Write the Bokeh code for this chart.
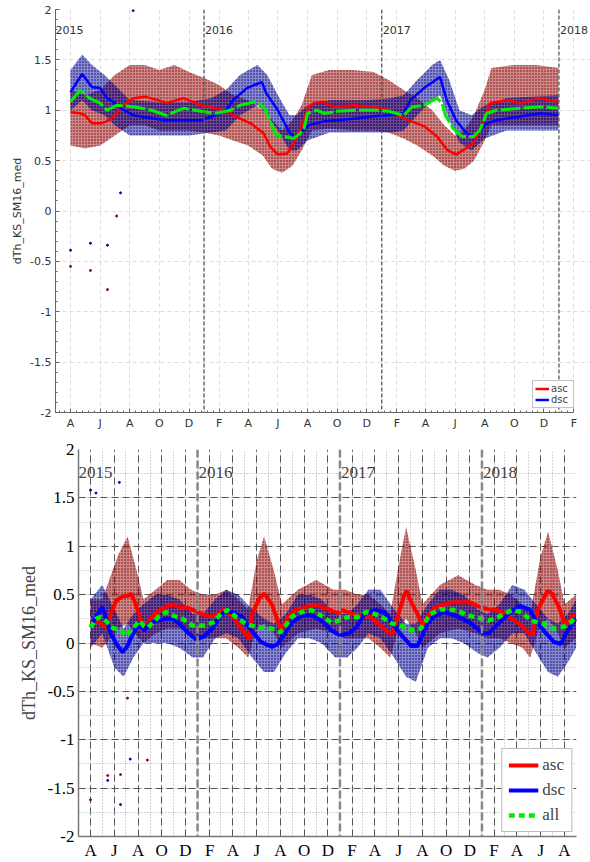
import pandas as pd
from bokeh.plotting import figure
from bokeh.models import (Range1d, FixedTicker, CustomJSTickFormatter, Span, Label,
                          Legend, LegendItem)
from bokeh.embed import file_html
from bokeh.resources import INLINE

# ---------------- DATA : top panel ----------------
asc_top_dates = ["2015-04-01", "2015-04-21", "2015-05-01", "2015-05-15", "2015-06-01", "2015-06-15",
                 "2015-07-02", "2015-07-15", "2015-08-09", "2015-09-01", "2015-09-29", "2015-10-15",
                 "2015-11-20", "2015-12-25", "2016-01-25", "2016-02-15", "2016-03-01", "2016-04-06",
                 "2016-05-03", "2016-05-16", "2016-06-01", "2016-06-20", "2016-07-01", "2016-07-15",
                 "2016-07-25", "2016-08-03", "2016-08-14", "2016-09-01", "2016-09-15", "2016-10-01",
                 "2016-11-01", "2016-12-15", "2017-01-15", "2017-02-15", "2017-03-30", "2017-04-25",
                 "2017-05-15", "2017-06-03", "2017-07-09", "2017-07-25", "2017-08-12", "2017-09-15",
                 "2017-10-15", "2017-11-20", "2017-12-31"]
asc_top = [0.98, 0.97, 0.95, 0.87, 0.87, 0.89, 0.95, 1.04, 1.12, 1.135, 1.10, 1.07, 1.12, 1.05,
           1.02, 0.99, 0.95, 0.87, 0.77, 0.64, 0.56, 0.57, 0.65, 0.78, 0.92, 1.03, 1.07, 1.085,
           1.05, 1.035, 1.05, 1.035, 1.00, 0.92, 0.84, 0.74, 0.61, 0.56, 0.67, 0.84, 1.07, 1.10,
           1.07, 1.12, 1.085]

dsc_top_dates = ["2015-04-01", "2015-04-25", "2015-05-15", "2015-06-01", "2015-06-15", "2015-06-28",
                 "2015-07-08", "2015-08-08", "2015-09-15", "2015-10-15", "2015-11-18", "2015-12-25",
                 "2016-01-25", "2016-02-15", "2016-03-01", "2016-03-29", "2016-04-29", "2016-05-08",
                 "2016-06-01", "2016-06-25", "2016-07-05", "2016-07-17", "2016-08-03", "2016-09-03",
                 "2016-10-03", "2016-11-13", "2016-12-15", "2017-01-15", "2017-02-15", "2017-03-01",
                 "2017-03-29", "2017-05-01", "2017-05-15", "2017-06-03", "2017-06-25", "2017-07-09",
                 "2017-07-22", "2017-08-05", "2017-08-25", "2017-10-15", "2017-11-25", "2017-12-31"]
dsc_top = [1.18, 1.36, 1.23, 1.22, 1.12, 1.085, 1.035, 0.95, 0.92, 0.90, 0.90, 0.90, 0.95, 1.00,
           1.10, 1.22, 1.28, 1.17, 1.00, 0.78, 0.73, 0.77, 0.85, 0.89, 0.90, 0.92, 0.94, 0.95,
           0.97, 1.10, 1.22, 1.33, 1.10, 0.90, 0.77, 0.74, 0.80, 0.87, 0.90, 0.94, 0.97, 0.95]

all_top_dates = ["2015-04-01", "2015-04-21", "2015-05-10", "2015-06-01", "2015-06-15", "2015-07-05",
                 "2015-08-09", "2015-09-15", "2015-10-15", "2015-11-20", "2015-12-25", "2016-01-25",
                 "2016-02-25", "2016-03-15", "2016-04-15", "2016-05-03", "2016-05-12", "2016-05-28",
                 "2016-06-15", "2016-07-03", "2016-07-17", "2016-07-25", "2016-08-01", "2016-08-20",
                 "2016-09-05", "2016-10-03", "2016-11-13", "2016-12-20", "2017-01-15", "2017-02-15",
                 "2017-03-05", "2017-03-30", "2017-04-25", "2017-05-05", "2017-05-12", "2017-05-28",
                 "2017-06-15", "2017-07-09", "2017-07-22", "2017-08-05", "2017-08-25", "2017-10-15",
                 "2017-11-25", "2017-12-31"]
all_top = [1.085, 1.20, 1.12, 1.07, 1.00, 1.05, 1.035, 1.00, 0.95, 1.02, 0.99, 0.97, 1.00, 1.05,
           1.085, 1.035, 0.94, 0.755, 0.74, 0.72, 0.77, 0.82, 0.97, 1.00, 0.97, 0.99, 1.00, 1.00,
           0.99, 0.95, 1.035, 1.05, 1.12, 1.07, 0.95, 0.82, 0.74, 0.74, 0.80, 0.97, 1.00, 1.02,
           1.035, 1.02]

# spread of the individual asc / dsc points (lower and upper edge of the clouds)
asc_top_band_dates = ["2015-04-01", "2015-05-01", "2015-06-01", "2015-07-01", "2015-08-01", "2015-09-01",
                      "2015-10-01", "2015-11-01", "2015-12-01", "2016-01-01", "2016-02-01", "2016-03-01",
                      "2016-04-01", "2016-05-01", "2016-05-20", "2016-06-10", "2016-07-01", "2016-07-20",
                      "2016-08-10", "2016-09-15", "2016-11-01", "2016-12-15", "2017-01-15", "2017-02-15",
                      "2017-03-15", "2017-04-15", "2017-05-10", "2017-06-01", "2017-06-20", "2017-07-10",
                      "2017-08-01", "2017-08-15", "2017-10-01", "2017-11-15", "2017-12-31"]
asc_top_lo = [0.65, 0.62, 0.65, 0.75, 0.85, 0.85, 0.80, 0.80, 0.80, 0.78, 0.75, 0.70, 0.65, 0.55,
              0.42, 0.38, 0.45, 0.60, 0.80, 0.82, 0.80, 0.80, 0.78, 0.72, 0.65, 0.55, 0.45, 0.40,
              0.42, 0.50, 0.70, 0.85, 0.85, 0.85, 0.85]
asc_top_hi = [1.20, 1.15, 1.20, 1.35, 1.45, 1.45, 1.40, 1.45, 1.38, 1.32, 1.25, 1.15, 1.10, 1.00,
              0.90, 0.80, 0.90, 1.05, 1.35, 1.40, 1.40, 1.38, 1.30, 1.20, 1.12, 1.00, 0.85, 0.75,
              0.80, 0.95, 1.20, 1.42, 1.45, 1.45, 1.42]

dsc_top_band_dates = ["2015-04-01", "2015-04-25", "2015-05-15", "2015-06-10", "2015-07-01", "2015-08-01",
                      "2015-10-01", "2015-12-01", "2016-01-15", "2016-02-15", "2016-03-15", "2016-04-20",
                      "2016-05-10", "2016-06-01", "2016-06-25", "2016-07-10", "2016-08-01", "2016-09-15",
                      "2016-12-01", "2017-01-20", "2017-02-15", "2017-03-15", "2017-04-15", "2017-05-01",
                      "2017-05-20", "2017-06-10", "2017-07-05", "2017-08-01", "2017-09-15", "2017-12-31"]
dsc_top_lo = [1.00, 1.10, 1.00, 0.95, 0.85, 0.75, 0.75, 0.75, 0.78, 0.80, 0.95, 1.05, 0.95, 0.80,
              0.60, 0.60, 0.70, 0.78, 0.78, 0.78, 0.80, 0.95, 1.10, 1.15, 0.90, 0.68, 0.60, 0.72,
              0.80, 0.80]
dsc_top_hi = [1.40, 1.55, 1.45, 1.35, 1.25, 1.10, 1.08, 1.08, 1.12, 1.20, 1.35, 1.45, 1.35, 1.15,
              0.95, 0.95, 1.05, 1.10, 1.10, 1.12, 1.15, 1.30, 1.45, 1.50, 1.30, 1.00, 0.95, 1.05,
              1.12, 1.15]

# isolated points
asc_top_out_dates = ["2015-04-01", "2015-05-12", "2015-06-16", "2015-07-05"]
asc_top_out = [-0.55, -0.59, -0.78, -0.05]
dsc_top_out_dates = ["2015-04-01", "2015-05-12", "2015-06-16", "2015-07-13", "2015-08-08"]
dsc_top_out = [-0.39, -0.32, -0.34, 0.18, 1.99]

# ---------------- DATA : bottom panel ----------------
asc_bot_dates = ["2015-04-01", "2015-04-15", "2015-04-28", "2015-05-10", "2015-05-25", "2015-06-06",
                 "2015-06-22", "2015-07-09", "2015-07-15", "2015-07-26", "2015-08-09", "2015-08-17",
                 "2015-09-01", "2015-09-18", "2015-10-05", "2015-10-27", "2015-11-16", "2015-12-10",
                 "2016-01-01", "2016-01-25", "2016-02-18", "2016-03-10", "2016-04-01", "2016-04-26",
                 "2016-05-12", "2016-05-20", "2016-06-09", "2016-06-21", "2016-07-10", "2016-07-25",
                 "2016-08-03", "2016-08-21", "2016-09-07", "2016-10-12", "2016-11-05", "2016-12-01",
                 "2016-12-25", "2017-01-07", "2017-02-03", "2017-03-01", "2017-03-18", "2017-04-09",
                 "2017-05-05", "2017-05-16", "2017-05-29", "2017-06-15", "2017-06-22", "2017-07-01",
                 "2017-07-19", "2017-08-01", "2017-08-15", "2017-09-02", "2017-10-15", "2017-12-01",
                 "2017-12-28", "2018-01-17", "2018-02-12", "2018-03-10", "2018-04-06", "2018-05-03",
                 "2018-05-12", "2018-05-24", "2018-06-19", "2018-06-30", "2018-07-18", "2018-08-01",
                 "2018-08-14", "2018-08-28"]
asc_bot = [0.20, 0.23, 0.20, 0.16, 0.32, 0.44, 0.48, 0.49, 0.51, 0.40, 0.23, 0.15, 0.25, 0.32,
           0.36, 0.40, 0.37, 0.36, 0.32, 0.28, 0.28, 0.36, 0.27, 0.13, 0.04, 0.30, 0.47, 0.51,
           0.40, 0.23, 0.13, 0.27, 0.34, 0.38, 0.39, 0.35, 0.31, 0.34, 0.30, 0.27, 0.28, 0.20,
           0.11, 0.095, 0.27, 0.49, 0.54, 0.44, 0.30, 0.18, 0.28, 0.37, 0.42, 0.42, 0.37, 0.35,
           0.34, 0.27, 0.20, 0.095, 0.095, 0.34, 0.54, 0.51, 0.37, 0.20, 0.23, 0.30]

dsc_bot_dates = ["2015-04-01", "2015-04-15", "2015-05-01", "2015-05-10", "2015-05-23", "2015-06-10",
                 "2015-06-22", "2015-07-05", "2015-07-17", "2015-08-05", "2015-08-17", "2015-09-01",
                 "2015-09-18", "2015-10-12", "2015-10-30", "2015-11-15", "2015-12-06", "2015-12-28",
                 "2016-01-15", "2016-02-08", "2016-02-27", "2016-03-14", "2016-04-09", "2016-04-25",
                 "2016-05-18", "2016-06-12", "2016-07-10", "2016-07-25", "2016-08-12", "2016-08-30",
                 "2016-09-25", "2016-10-20", "2016-11-15", "2016-12-10", "2017-01-01", "2017-01-22",
                 "2017-02-12", "2017-03-05", "2017-04-01", "2017-04-26", "2017-05-12", "2017-05-29",
                 "2017-06-15", "2017-07-03", "2017-07-19", "2017-08-01", "2017-08-15", "2017-09-02",
                 "2017-09-28", "2017-10-25", "2017-12-01", "2018-01-01", "2018-01-17", "2018-02-12",
                 "2018-03-10", "2018-04-06", "2018-05-03", "2018-05-20", "2018-06-08", "2018-07-05",
                 "2018-07-23", "2018-08-05", "2018-08-22", "2018-08-31"]
dsc_bot = [0.16, 0.27, 0.37, 0.27, 0.095, -0.03, -0.095, -0.03, 0.08, 0.20, 0.13, 0.20, 0.23,
           0.25, 0.25, 0.20, 0.11, 0.04, 0.06, 0.15, 0.27, 0.34, 0.30, 0.27, 0.13, 0.01, -0.04,
           -0.01, 0.095, 0.21, 0.28, 0.29, 0.23, 0.13, 0.08, 0.095, 0.16, 0.30, 0.34, 0.32, 0.23,
           0.13, 0.05, -0.03, -0.03, 0.08, 0.21, 0.28, 0.32, 0.28, 0.21, 0.11, 0.095, 0.20, 0.30,
           0.38, 0.35, 0.23, 0.13, 0.01, -0.01, 0.095, 0.20, 0.25]

all_bot_dates = ["2015-04-01", "2015-04-15", "2015-04-27", "2015-05-10", "2015-05-27", "2015-06-18",
                 "2015-07-01", "2015-07-14", "2015-08-05", "2015-08-15", "2015-08-26", "2015-09-08",
                 "2015-09-25", "2015-10-12", "2015-11-01", "2015-11-24", "2015-12-19", "2016-01-15",
                 "2016-02-09", "2016-03-06", "2016-03-18", "2016-04-09", "2016-05-04", "2016-05-18",
                 "2016-06-12", "2016-07-10", "2016-08-01", "2016-08-18", "2016-08-30", "2016-09-25",
                 "2016-10-20", "2016-11-15", "2016-12-10", "2016-12-28", "2017-01-22", "2017-02-16",
                 "2017-03-10", "2017-04-01", "2017-04-26", "2017-05-16", "2017-06-06", "2017-06-20",
                 "2017-07-03", "2017-07-28", "2017-08-22", "2017-09-17", "2017-10-25", "2017-12-01",
                 "2018-01-01", "2018-01-17", "2018-02-12", "2018-03-18", "2018-04-12", "2018-05-08",
                 "2018-06-08", "2018-07-05", "2018-07-23", "2018-08-05", "2018-08-22", "2018-08-31"]
all_bot = [0.16, 0.25, 0.27, 0.23, 0.16, 0.13, 0.07, 0.13, 0.23, 0.18, 0.16, 0.21, 0.28, 0.32,
           0.28, 0.25, 0.18, 0.18, 0.21, 0.32, 0.34, 0.27, 0.20, 0.18, 0.16, 0.15, 0.11, 0.20,
           0.27, 0.32, 0.34, 0.28, 0.21, 0.23, 0.27, 0.27, 0.32, 0.30, 0.25, 0.20, 0.18, 0.16,
           0.13, 0.15, 0.30, 0.35, 0.34, 0.28, 0.25, 0.23, 0.27, 0.34, 0.32, 0.23, 0.20, 0.15,
           0.16, 0.18, 0.23, 0.28]

asc_bot_band_dates = ["2015-04-01", "2015-05-01", "2015-06-10", "2015-07-05", "2015-07-25", "2015-08-15",
                      "2015-09-15", "2015-10-15", "2015-11-15", "2015-12-15", "2016-01-15", "2016-02-15",
                      "2016-03-15", "2016-04-15", "2016-05-10", "2016-06-01", "2016-06-20", "2016-07-15",
                      "2016-08-05", "2016-09-15", "2016-11-01", "2016-12-15", "2017-01-15", "2017-02-15",
                      "2017-03-15", "2017-04-15", "2017-05-10", "2017-06-01", "2017-06-20", "2017-07-15",
                      "2017-08-01", "2017-09-15", "2017-11-01", "2017-12-15", "2018-01-15", "2018-02-15",
                      "2018-03-15", "2018-04-15", "2018-05-05", "2018-06-01", "2018-06-20", "2018-07-15",
                      "2018-08-01", "2018-08-31"]
asc_bot_lo = [0.00, -0.05, 0.15, 0.20, 0.10, 0.00, 0.10, 0.15, 0.15, 0.10, 0.05, 0.05, 0.05,
              -0.05, -0.15, 0.15, 0.20, 0.10, -0.05, 0.10, 0.15, 0.10, 0.05, 0.05, 0.05, -0.05,
              -0.15, 0.15, 0.25, 0.10, -0.05, 0.10, 0.15, 0.10, 0.05, 0.05, 0.00, -0.05, -0.15,
              0.20, 0.25, 0.10, -0.05, 0.05]
asc_bot_hi = [0.45, 0.45, 0.90, 1.10, 0.80, 0.45, 0.55, 0.65, 0.65, 0.55, 0.50, 0.50, 0.55,
              0.45, 0.35, 0.85, 1.10, 0.75, 0.40, 0.55, 0.65, 0.55, 0.55, 0.50, 0.50, 0.40,
              0.30, 0.80, 1.20, 0.75, 0.40, 0.60, 0.70, 0.60, 0.55, 0.55, 0.50, 0.40, 0.30,
              0.90, 1.15, 0.75, 0.40, 0.50]

dsc_bot_band_dates = ["2015-04-01", "2015-05-01", "2015-06-01", "2015-06-25", "2015-07-20", "2015-08-15",
                      "2015-09-15", "2015-10-15", "2015-11-15", "2015-12-20", "2016-01-15", "2016-02-15",
                      "2016-03-15", "2016-04-15", "2016-05-20", "2016-06-20", "2016-07-15", "2016-08-15",
                      "2016-09-15", "2016-10-15", "2016-11-15", "2016-12-20", "2017-01-20", "2017-02-15",
                      "2017-03-15", "2017-04-15", "2017-05-20", "2017-06-20", "2017-07-15", "2017-08-15",
                      "2017-09-15", "2017-10-15", "2017-11-15", "2017-12-20", "2018-01-15", "2018-02-15",
                      "2018-03-20", "2018-04-20", "2018-05-20", "2018-06-20", "2018-07-15", "2018-08-10",
                      "2018-08-31"]
dsc_bot_lo = [-0.05, 0.10, -0.25, -0.35, -0.15, 0.00, 0.00, 0.00, -0.05, -0.15, -0.15, 0.05,
              0.10, 0.05, -0.15, -0.30, -0.30, -0.10, 0.05, 0.05, 0.00, -0.15, -0.15, -0.05,
              0.10, 0.05, -0.15, -0.35, -0.40, -0.05, 0.05, 0.05, 0.00, -0.10, -0.15, -0.05,
              0.10, 0.10, -0.10, -0.30, -0.35, -0.20, -0.05]
dsc_bot_hi = [0.45, 0.60, 0.35, 0.15, 0.30, 0.40, 0.50, 0.50, 0.45, 0.30, 0.30, 0.45, 0.55,
              0.50, 0.35, 0.25, 0.20, 0.30, 0.50, 0.50, 0.45, 0.30, 0.30, 0.40, 0.55, 0.55,
              0.35, 0.20, 0.20, 0.40, 0.55, 0.55, 0.50, 0.35, 0.30, 0.40, 0.60, 0.55, 0.40,
              0.25, 0.20, 0.30, 0.45]

asc_bot_out_dates = ["2015-04-01", "2015-05-15", "2015-06-17", "2015-07-05", "2015-08-25"]
asc_bot_out = [-1.62, -1.37, -1.36, -0.57, -1.21]
dsc_bot_out_dates = ["2015-04-01", "2015-04-15", "2015-06-14", "2015-05-15", "2015-06-17", "2015-07-12"]
dsc_bot_out = [1.58, 1.55, 1.66, -1.42, -1.67, -1.20]

year_labels = ["2015", "2016", "2017", "2018"]
month_letters = "JFMAMJJASOND"

# ---------------- helpers ----------------
def D(lst):
    return pd.to_datetime(lst)

def ms(s):
    return pd.Timestamp(s).value // 10**6

month_fmt = CustomJSTickFormatter(
    code="const d = new Date(tick); return '%s'[d.getUTCMonth()];" % month_letters)
num_fmt = CustomJSTickFormatter(code="return String(Math.round(tick*100)/100);")

RED, BLUE, GREEN = "#ff0000", "#0000ff", "#00ee00"
DRED, DBLUE = "#8b0000", "#00008b"

yt = [-2 + 0.5 * i for i in range(9)]

def cloud(p, xs, lo, hi, color):
    p.varea(x=D(xs), y1=lo, y2=hi, fill_color=color, fill_alpha=0.46,
            hatch_pattern="dot", hatch_color=color, hatch_alpha=1.0, hatch_scale=3,
            hatch_weight=1.3)

# =============== TOP PANEL ===============
# frame reaches the page edge so that the "2018" label is not clipped;
# the axis itself stops at Feb 2018
TOP_END = pd.Timestamp("2018-03-07")
top = figure(frame_width=535, frame_height=403, output_backend="svg", toolbar_location=None,
             x_axis_type="datetime",
             x_range=Range1d(pd.Timestamp("2015-03-01"), TOP_END),
             y_range=Range1d(-2, 2), min_border_left=55, min_border_right=0,
             min_border_top=9, min_border_bottom=20)
top.outline_line_color = None
top.background_fill_color = "white"

tmaj = [ms(t) for t in pd.date_range("2015-04-01", "2018-02-01", freq="2MS")]
tmin = []
edges = [ms("2015-02-01")] + tmaj
for a, b in zip(edges[:-1], edges[1:]):
    for k in range(1, 5):
        tmin.append(a + (b - a) * k / 5)
top.xaxis.ticker = FixedTicker(ticks=tmaj, minor_ticks=tmin)
top.xaxis.formatter = month_fmt
top.xaxis.bounds = (ms("2015-03-01"), ms("2018-02-01"))
top.yaxis.ticker = FixedTicker(ticks=yt, minor_ticks=[-2 + 0.1 * i for i in range(41)])
top.yaxis.formatter = num_fmt
top.yaxis.axis_label = "dTh_KS_SM16_med"
for ax in (top.xaxis[0], top.yaxis[0]):
    ax.axis_line_color = "#666666"
    ax.major_tick_line_color = "#666666"
    ax.minor_tick_line_color = "#666666"
    ax.major_tick_in = 4
    ax.major_tick_out = 0
    ax.minor_tick_in = 2
    ax.minor_tick_out = 0
    ax.major_label_text_font = "DejaVu Sans"
    ax.major_label_text_font_size = "11px"
    ax.major_label_text_color = "#333333"
    ax.major_label_standoff = 4
top.yaxis.axis_label_text_font = "DejaVu Sans"
top.yaxis.axis_label_text_font_size = "11px"
top.yaxis.axis_label_text_font_style = "normal"
top.yaxis.axis_label_text_color = "#333333"
top.yaxis.axis_label_standoff = 3
for g in (top.xgrid[0], top.ygrid[0]):
    g.grid_line_color = "#dddddd"
    g.grid_line_dash = "4 3"

cloud(top, asc_top_band_dates, asc_top_lo, asc_top_hi, DRED)
cloud(top, dsc_top_band_dates, dsc_top_lo, dsc_top_hi, DBLUE)
top.scatter(D(asc_top_out_dates), asc_top_out, size=2, color=DRED)
top.scatter(D(dsc_top_out_dates), dsc_top_out, size=2, color=DBLUE)

for yr in year_labels[1:]:
    top.add_layout(Span(location=ms(yr + "-01-01"), dimension="height", line_color="#555555",
                        line_dash="4 2", line_width=1.3))
top.add_layout(Label(x=ms("2015-03-01"), y=1.8, text="2015", text_font="DejaVu Sans",
                     text_font_size="11px", text_baseline="middle", text_color="#333333"))
for yr in year_labels[1:]:
    top.add_layout(Label(x=ms(yr + "-01-01"), y=1.8, text=yr, text_font="DejaVu Sans",
                         text_font_size="11px", text_baseline="middle", x_offset=1,
                         text_color="#333333"))

ra = top.line(D(asc_top_dates), asc_top, line_color=RED, line_width=2.5)
rd = top.line(D(dsc_top_dates), dsc_top, line_color=BLUE, line_width=2.5)
top.line(D(all_top_dates), all_top, line_color=GREEN, line_width=3, line_dash="20 3")

lt = Legend(items=[LegendItem(label="asc", renderers=[ra]), LegendItem(label="dsc", renderers=[rd])],
            location=(477, 4), label_text_font="DejaVu Sans", label_text_font_size="10px",
            label_height=9, glyph_height=9, glyph_width=14, padding=2, spacing=0, margin=0,
            label_standoff=2, border_line_color="#888888", background_fill_alpha=1)
top.add_layout(lt)

# =============== BOTTOM PANEL ===============
SERIF = "Liberation Serif"
bot = figure(frame_width=498, frame_height=387, output_backend="svg", toolbar_location=None,
             x_axis_type="datetime",
             x_range=Range1d(pd.Timestamp("2015-03-01"), pd.Timestamp("2018-09-01")),
             y_range=Range1d(-2, 2), min_border_left=78, min_border_right=14,
             min_border_top=17, min_border_bottom=22)
bot.outline_line_color = None
bmaj = [ms(t) for t in pd.date_range("2015-04-01", "2018-08-01", freq="2MS")]
bmin = [ms(t) for t in pd.date_range("2015-03-01", "2018-09-01", freq="MS")]
bot.xaxis.ticker = FixedTicker(ticks=bmaj, minor_ticks=bmin)
bot.xaxis.formatter = month_fmt
bot.yaxis.ticker = FixedTicker(ticks=yt, minor_ticks=[-2 + 0.25 * i for i in range(17)])
bot.yaxis.formatter = num_fmt
bot.yaxis.axis_label = "dTh_KS_SM16_med"
for ax in (bot.xaxis[0], bot.yaxis[0]):
    ax.axis_line_color = "#777777"
    ax.axis_line_width = 1.5
    ax.major_tick_line_color = None
    ax.minor_tick_line_color = None
    ax.major_tick_in = 0
    ax.major_tick_out = 0
    ax.minor_tick_in = 0
    ax.minor_tick_out = 0
    ax.major_label_text_font = SERIF
    ax.major_label_text_font_size = "17px"
    ax.major_label_text_color = "black"
    ax.major_label_standoff = 4
bot.yaxis.axis_label_text_font = SERIF
bot.yaxis.axis_label_text_font_size = "18px"
bot.yaxis.axis_label_text_font_style = "normal"
bot.yaxis.axis_label_standoff = 6
for g in (bot.xgrid[0], bot.ygrid[0]):
    g.grid_line_color = "#555555"
    g.grid_line_dash = "7 4"
    g.grid_line_width = 1
    g.minor_grid_line_color = "#aaaaaa"
    g.minor_grid_line_dash = "1 2"

cloud(bot, asc_bot_band_dates, asc_bot_lo, asc_bot_hi, DRED)
cloud(bot, dsc_bot_band_dates, dsc_bot_lo, dsc_bot_hi, DBLUE)
bot.scatter(D(asc_bot_out_dates), asc_bot_out, size=2, color=DRED)
bot.scatter(D(dsc_bot_out_dates), dsc_bot_out, size=2, color=DBLUE)

for yr in year_labels[1:]:
    bot.add_layout(Span(location=ms(yr + "-01-01"), dimension="height", line_color="#888888",
                        line_dash="8 3", line_width=2.5))
bot.add_layout(Label(x=ms("2015-03-01"), y=1.76, text="2015", text_font=SERIF,
                     text_font_size="17px", text_baseline="middle"))
for yr in year_labels[1:]:
    bot.add_layout(Label(x=ms(yr + "-01-01"), y=1.76, text=yr, text_font=SERIF,
                         text_font_size="17px", text_baseline="middle", x_offset=1))

ba = bot.line(D(asc_bot_dates), asc_bot, line_color=RED, line_width=4)
bd = bot.line(D(dsc_bot_dates), dsc_bot, line_color=BLUE, line_width=4)
bg = bot.line(D(all_bot_dates), all_bot, line_color=GREEN, line_width=4.5, line_dash="6 4")

lb = Legend(items=[LegendItem(label="asc", renderers=[ba]), LegendItem(label="dsc", renderers=[bd]),
                   LegendItem(label="all", renderers=[bg])],
            location="bottom_right", label_text_font=SERIF, label_text_font_size="17px",
            label_height=20, glyph_height=20, glyph_width=30, padding=6, spacing=5, margin=4,
            label_standoff=4, border_line_color="#777777", border_line_width=1.5,
            background_fill_alpha=1)
bot.add_layout(lb)

# two independent roots, stacked, so that each panel keeps its own margins
open("out.html", "w").write(file_html([top, bot], INLINE))
